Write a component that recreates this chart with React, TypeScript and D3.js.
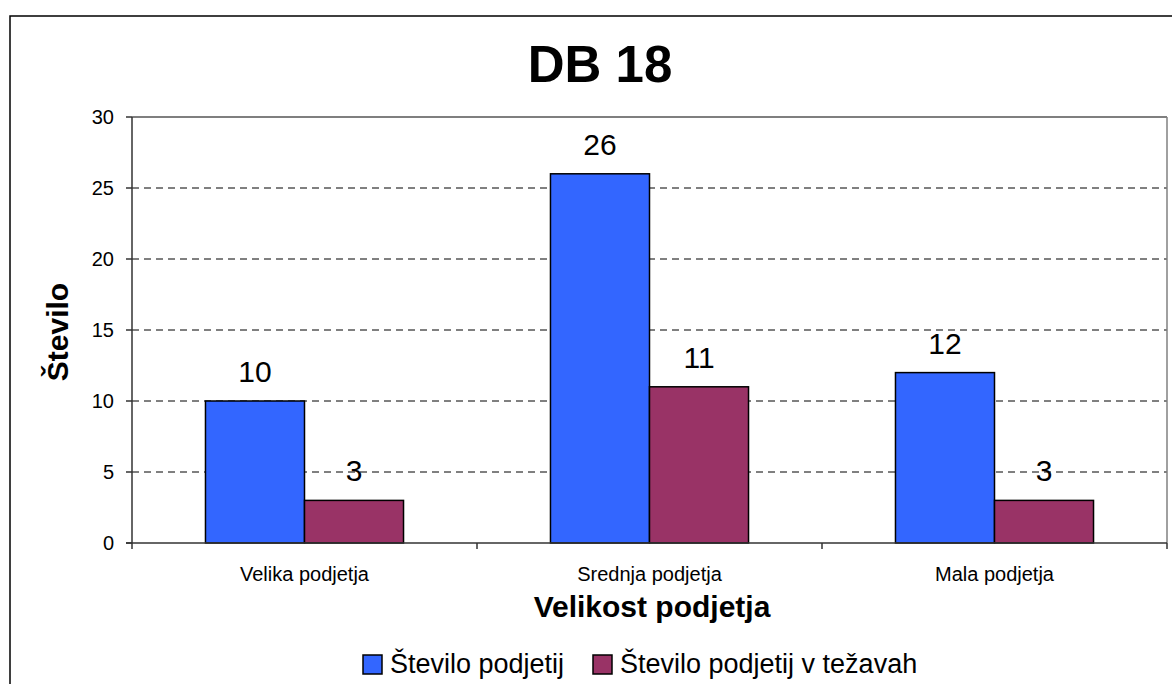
import React from "react";
import * as d3 from "d3";

const categories = ["Velika podjetja", "Srednja podjetja", "Mala podjetja"];
const seriesNames = ["Število podjetij", "Število podjetij v težavah"];
const seriesTotal = [10, 26, 12];
const seriesTrouble = [3, 11, 3];
const seriesColors = ["#3366FF", "#993366"];
const yTicks = [0, 5, 10, 15, 20, 25, 30];
const title = "DB 18";
const xTitle = "Velikost podjetja";
const yTitle = "Število";

const FONT = "'Liberation Sans', Arial, sans-serif";

export default function App() {
  const W = 1172, H = 684;
  const left = 132, right = 1167, top = 117, bottom = 543;
  const series = [seriesTotal, seriesTrouble];

  const x0 = d3.scaleBand<string>().domain(categories).range([left, right]).paddingInner(0).paddingOuter(0);
  const x1 = d3.scaleBand<string>().domain(seriesNames).range([0, x0.bandwidth()]).paddingInner(0).paddingOuter(0.742);
  const y = d3.scaleLinear().domain([0, 30]).range([bottom, top]);

  const boundaries = [...categories.map((c) => x0(c)!), right];

  // legend layout
  const legendFont = 27;
  const sq = 19;
  const legendX0 = 363;
  const legendItems = [
    { sx: legendX0, tx: legendX0 + 27 },
    { sx: 593, tx: 620 },
  ];

  return (
    <svg width={W} height={H} style={{ position: "absolute", left: 0, top: 0, background: "#fff" }} fontFamily={FONT}>
      <rect x={10} y={16} width={1300} height={800} fill="#fff" stroke="#000" strokeWidth={1.5} />

      <text x={600} y={82} textAnchor="middle" fontSize={51} fontWeight="bold">{title}</text>

      {/* gridlines */}
      {yTicks.filter((t) => t > 0 && t < 30).map((t) => (
        <line key={t} x1={left} x2={right} y1={y(t)} y2={y(t)} stroke="#000" strokeWidth={1} strokeDasharray="7,5" />
      ))}
      {/* plot border top/right */}
      <line x1={left} x2={right} y1={y(30)} y2={y(30)} stroke="#555" strokeWidth={1.5} />
      <line x1={right} x2={right} y1={top} y2={bottom} stroke="#808080" strokeWidth={1.5} />

      {/* bars */}
      {categories.map((c, i) => (
        <g key={c}>
          {series.map((s, j) => {
            const bx = x0(c)! + x1(seriesNames[j])!;
            const bw = x1.bandwidth();
            return (
              <g key={j}>
                <rect x={bx} y={y(s[i])} width={bw} height={y(0) - y(s[i])} fill={seriesColors[j]} stroke="#000" strokeWidth={1.5} />
                <text x={bx + bw / 2} y={y(s[i]) - 19} textAnchor="middle" fontSize={30} fill="#000">{s[i]}</text>
              </g>
            );
          })}
        </g>
      ))}

      {/* axes */}
      <line x1={left} x2={left} y1={top} y2={bottom} stroke="#333" strokeWidth={1.5} />
      <line x1={left - 6} x2={right} y1={bottom} y2={bottom} stroke="#333" strokeWidth={1.5} />
      {yTicks.map((t) => (
        <g key={t}>
          <line x1={left - 6} x2={left} y1={y(t)} y2={y(t)} stroke="#333" strokeWidth={1.5} />
          <text x={left - 18} y={y(t)} dy="0.35em" textAnchor="end" fontSize={20}>{t}</text>
        </g>
      ))}
      {boundaries.map((bx, i) => (
        <line key={i} x1={bx} x2={bx} y1={bottom} y2={bottom + 6} stroke="#333" strokeWidth={1.5} />
      ))}
      {categories.map((c) => (
        <text key={c} x={x0(c)! + x0.bandwidth() / 2} y={581} textAnchor="middle" fontSize={20}>{c}</text>
      ))}

      <text x={652} y={617} textAnchor="middle" fontSize={30} fontWeight="bold">{xTitle}</text>
      <text transform={`translate(68,332) rotate(-90)`} textAnchor="middle" fontSize={30} fontWeight="bold">{yTitle}</text>

      {/* legend */}
      {seriesNames.map((n, j) => (
        <g key={n}>
          <rect x={legendItems[j].sx} y={655} width={sq} height={sq} fill={seriesColors[j]} stroke="#000" strokeWidth={1.5} />
          <text x={legendItems[j].tx} y={673} fontSize={legendFont}>{n}</text>
        </g>
      ))}
    </svg>
  );
}
